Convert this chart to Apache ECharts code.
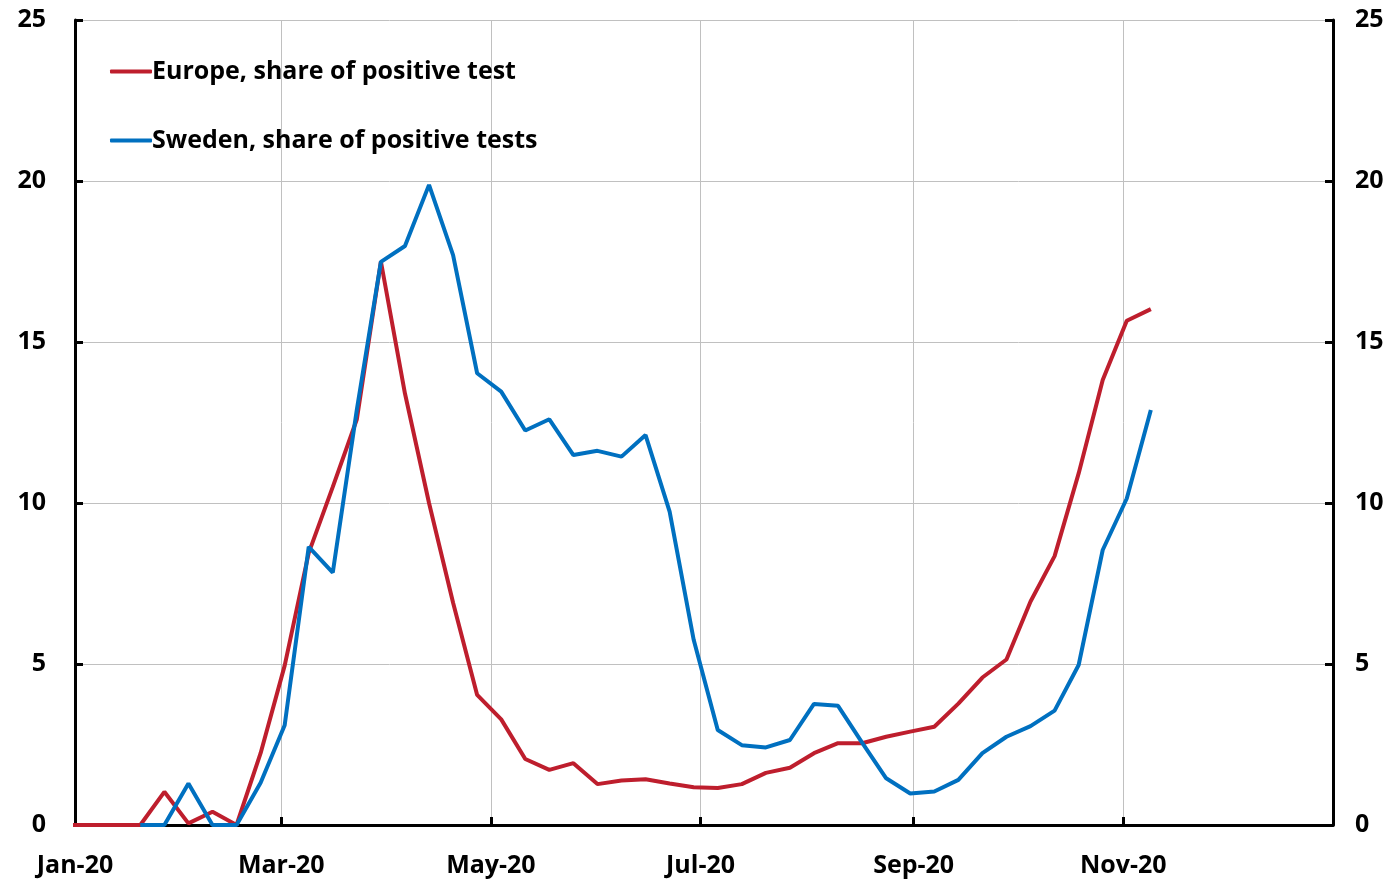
<!DOCTYPE html>
<html>
<head>
<meta charset="utf-8">
<title>Share of positive tests</title>
<script src="https://cdn.jsdelivr.net/npm/echarts@6/dist/echarts.min.js"></script>
<style>
    html, body { margin: 0; padding: 0; background: #fff; }
    #chart { width: 1396px; height: 881px; }
</style>
</head>
<body>
<div id="chart"></div>
<script>
// weekly dates (Mondays)
var weeks = ['2019-12-30', '2020-01-06', '2020-01-13', '2020-01-20', '2020-01-27', '2020-02-03',
    '2020-02-10', '2020-02-17', '2020-02-24', '2020-03-02', '2020-03-09', '2020-03-16', '2020-03-23',
    '2020-03-30', '2020-04-06', '2020-04-13', '2020-04-20', '2020-04-27', '2020-05-04', '2020-05-11',
    '2020-05-18', '2020-05-25', '2020-06-01', '2020-06-08', '2020-06-15', '2020-06-22', '2020-06-29',
    '2020-07-06', '2020-07-13', '2020-07-20', '2020-07-27', '2020-08-03', '2020-08-10', '2020-08-17',
    '2020-08-24', '2020-08-31', '2020-09-07', '2020-09-14', '2020-09-21', '2020-09-28', '2020-10-05',
    '2020-10-12', '2020-10-19', '2020-10-26', '2020-11-02', '2020-11-09'];

// Europe, share of positive test (%)
var europe = [0, 0, 0, 0, 1.03, 0.05, 0.41, 0, 2.23, 4.95, 8.45, 10.5, 12.6, 17.5, 13.4, 10.0,
    6.9, 4.04, 3.28, 2.05, 1.71, 1.92, 1.27, 1.38, 1.42, 1.29, 1.17, 1.15, 1.27, 1.62, 1.78, 2.23,
    2.54, 2.54, 2.74, 2.90, 3.05, 3.77, 4.58, 5.14, 6.94, 8.35, 10.92, 13.82, 15.66, 16.02];

// Sweden, share of positive tests (%)
var sweden = [null, null, null, 0, 0, 1.29, 0, 0, 1.31, 3.1, 8.64, 7.84, 12.9, 17.49, 17.98, 19.88,
    17.7, 14.03, 13.46, 12.25, 12.6, 11.49, 11.62, 11.44, 12.11, 9.73, 5.75, 2.95, 2.48, 2.41, 2.64,
    3.76, 3.70, 2.56, 1.45, 0.98, 1.04, 1.40, 2.23, 2.74, 3.07, 3.55, 4.97, 8.54, 10.14, 12.89];

// x axis tick dates and labels
var tickDates = ['2020-01-01', '2020-03-01', '2020-05-01', '2020-07-01', '2020-09-01', '2020-11-01'];
var tickLabels = ['Jan-20', 'Mar-20', 'May-20', 'Jul-20', 'Sep-20', 'Nov-20'];
var xStart = '2020-01-01';
var xEnd = '2021-01-01';

var FONT = 'Open Sans';
function ts(d) { return echarts.time.parse(d).getTime(); }
var tickTimes = tickDates.map(ts);

function pairs(vals) {
    return weeks.map(function (w, i) { return [ts(w), vals[i]]; });
}

var yAxisBase = {
    type: 'value',
    min: 0,
    max: 25,
    interval: 5,
    axisLine: { show: true, lineStyle: { color: '#000', width: 3 } },
    axisTick: { show: true, inside: true, length: 8, lineStyle: { color: '#000', width: 3 } },
    axisLabel: { color: '#000', fontFamily: FONT, fontWeight: 'bold', fontSize: 25 }
};

var chart = echarts.init(document.getElementById('chart'));
chart.setOption({
    animation: false,
    grid: { left: 75, right: 63, top: 20, bottom: 56, containLabel: false },
    legend: {
        orient: 'vertical',
        left: 105,
        top: 54,
        itemGap: 44,
        itemWidth: 42,
        itemHeight: 4,
        icon: 'roundRect',
        textStyle: { color: '#000', fontFamily: FONT, fontWeight: 'bold', fontSize: 25, padding: [0, 0, 0, -5] },
        data: ['Europe, share of positive test', 'Sweden, share of positive tests']
    },
    xAxis: {
        type: 'value',
        min: ts(xStart),
        max: ts(xEnd),
        axisLine: { show: true, onZero: false, lineStyle: { color: '#000', width: 3 } },
        axisTick: {
            show: true, inside: true, length: 8,
            customValues: tickTimes,
            lineStyle: { color: '#000', width: 3 }
        },
        axisLabel: {
            color: '#000', fontFamily: FONT, fontWeight: 'bold', fontSize: 25, margin: 28,
            customValues: tickTimes,
            formatter: function (v) {
                var i = tickTimes.indexOf(v);
                return i >= 0 ? tickLabels[i] : '';
            }
        },
        splitLine: { show: true, lineStyle: { color: '#c0c0c0', width: 1 } }
    },
    yAxis: [
        Object.assign({}, yAxisBase, {
            position: 'left',
            axisLabel: Object.assign({}, yAxisBase.axisLabel, { margin: 29 }),
            splitLine: { show: true, lineStyle: { color: '#c0c0c0', width: 1 } }
        }),
        Object.assign({}, yAxisBase, {
            position: 'right',
            axisLabel: Object.assign({}, yAxisBase.axisLabel, { margin: 22 }),
            splitLine: { show: false }
        })
    ],
    series: [
        {
            name: 'Europe, share of positive test',
            type: 'line',
            data: pairs(europe),
            showSymbol: false,
            symbol: 'none',
            lineStyle: { color: '#be1e2d', width: 4 },
            itemStyle: { color: '#be1e2d' }
        },
        {
            name: 'Sweden, share of positive tests',
            type: 'line',
            data: pairs(sweden),
            showSymbol: false,
            symbol: 'none',
            lineStyle: { color: '#0070c0', width: 4 },
            itemStyle: { color: '#0070c0' }
        }
    ]
});
</script>
</body>
</html>
